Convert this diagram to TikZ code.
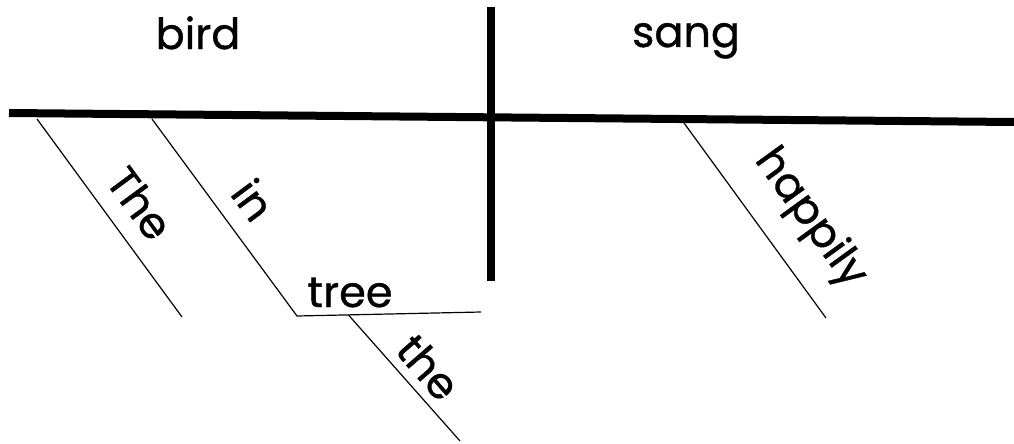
\documentclass[tikz,border=0pt]{standalone}
\usepackage{fontspec}
\setmainfont{Poppins}[FakeBold=0.8]
\begin{document}
\begin{tikzpicture}[x=1pt,y=-1pt,
  word/.style={inner sep=0pt, anchor=base, font=\fontsize{43}{48}\selectfont},
  thick line/.style={line width=8pt},
  thin line/.style={line width=1.2pt}]
\useasboundingbox (0,0) rectangle (1014,444);
% main lines
\coordinate (mL) at (9,113);
\coordinate (mR) at (1014,122);
\coordinate (vT) at (491,7);
\coordinate (vB) at (491,281);
\draw[thick line] (mL) -- (mR);
\draw[thick line] (vT) -- (vB);
% modifier lines
\coordinate (theA) at (37,119);
\coordinate (theB) at (182,317);
\coordinate (inA) at (152,119);
\coordinate (inB) at (297,316);
\coordinate (treeB) at (481,312);
\coordinate (the2A) at (348.5,315);
\coordinate (the2B) at (460,441);
\coordinate (hapA) at (684,123);
\coordinate (hapB) at (826,318);
\draw[thin line] (theA) -- (theB);
\draw[thin line, line join=miter] (inA) -- (inB) -- (treeB);
\draw[thin line] (the2A) -- (the2B);
\draw[thin line] (hapA) -- (hapB);
% words
\node[word] (bird) at (198,49) {bird};
\node[word] (sang) at (686,47) {sang};
\node[word] (tree) at (350,307) {tree};
\node[word, rotate=-53.6] (wThe) at (127.4,212.5) {The};
\node[word, rotate=-53.5] (win) at (240.6,209.4) {in};
\node[word, rotate=-49] (wthe) at (416.7,377.5) {the};
\node[word, rotate=-54.1] (whappily) at (801,225) {happily};
\end{tikzpicture}
\end{document}
